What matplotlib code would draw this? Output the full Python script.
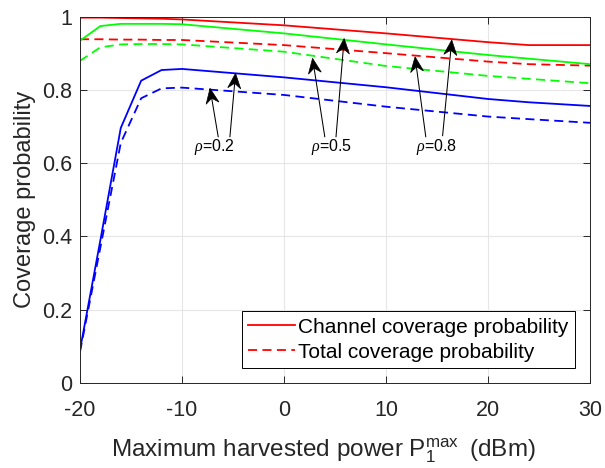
import matplotlib
matplotlib.use("Agg")
import matplotlib.pyplot as plt
import numpy as np
from matplotlib.patches import Polygon
from matplotlib.lines import Line2D

plt.rcParams['font.family'] = ['Liberation Sans', 'DejaVu Sans']
plt.rcParams['mathtext.fontset'] = 'custom'
plt.rcParams['mathtext.rm'] = 'Liberation Sans'
plt.rcParams['mathtext.it'] = 'Liberation Serif:italic'

x = [-20, -18, -16, -14, -12, -10, 0, 10, 20, 24, 30]
red_channel = [0.997, 0.997, 0.996, 0.995, 0.994, 0.992, 0.976, 0.954, 0.930, 0.922, 0.922]
red_total = [0.938, 0.938, 0.937, 0.937, 0.936, 0.936, 0.922, 0.900, 0.877, 0.870, 0.866]
green_channel = [0.934, 0.974, 0.980, 0.980, 0.980, 0.979, 0.954, 0.924, 0.895, 0.885, 0.870]
green_total = [0.879, 0.916, 0.924, 0.925, 0.925, 0.924, 0.904, 0.865, 0.838, 0.830, 0.818]
blue_channel = [0.09, 0.39, 0.696, 0.825, 0.854, 0.857, 0.834, 0.807, 0.775, 0.766, 0.756]
blue_total = [0.085, 0.37, 0.655, 0.777, 0.804, 0.806, 0.786, 0.754, 0.727, 0.720, 0.710]

xticks = [-20, -10, 0, 10, 20, 30]
xticklabels = ['-20', '-10', '0', '10', '20', '30']
yticks = [0, 0.2, 0.4, 0.6, 0.8, 1.0]
yticklabels = ['0', '0.2', '0.4', '0.6', '0.8', '1']

rho_labels = ['$\\rho$=0.2', '$\\rho$=0.5', '$\\rho$=0.8']
rho_text_pos = [(-6.8, 0.643), (4.7, 0.643), (15.0, 0.643)]
arrow_tails = [[(-6.45, 0.672), (-5.3, 0.672)],
               [(4.0, 0.672), (5.1, 0.672)],
               [(13.9, 0.672), (15.55, 0.675)]]
arrow_heads = [[(-7.25, 0.804), (-4.75, 0.845)],
               [(2.8, 0.886), (5.9, 0.940)],
               [(12.85, 0.890), (16.45, 0.936)]]

DPI = 100
fig = plt.figure(figsize=(6.05, 4.68), dpi=DPI)
ax = fig.add_axes([0.1322, 0.1816, 0.8430, 0.7831])

dash = (0, (5, 3))
lw = 1.3
ax.plot(x, red_channel, color=(1, 0, 0), lw=lw, label='Channel coverage probability')
ax.plot(x, red_total, color=(1, 0, 0), lw=lw, ls=dash, label='Total coverage probability')
ax.plot(x, green_channel, color=(0, 1, 0), lw=lw)
ax.plot(x, green_total, color=(0, 1, 0), lw=lw, ls=dash)
ax.plot(x, blue_channel, color=(0, 0, 1), lw=lw)
ax.plot(x, blue_total, color=(0, 0, 1), lw=lw, ls=dash)

ax.set_xlim(-20, 30)
ax.set_ylim(0, 1)

# MATLAB-like 'vback2' arrows drawn in pixel space
L, HW, NOTCH = 15.0, 6.5, 10.0
inv = ax.transData.inverted()
for lab, tp, tails, heads in zip(rho_labels, rho_text_pos, arrow_tails, arrow_heads):
    ax.text(tp[0], tp[1], lab, ha='center', va='center', fontsize=11.5, color='black')
    for t, h in zip(tails, heads):
        tpix = ax.transData.transform(t)
        hpix = ax.transData.transform(h)
        d = hpix - tpix
        u = d / np.hypot(*d)
        n = np.array([-u[1], u[0]])
        base = hpix - u * L
        notch = hpix - u * NOTCH
        pts_pix = [hpix, base + n * HW, notch, base - n * HW]
        pts = inv.transform(pts_pix)
        line_end = inv.transform([notch])[0]
        ax.add_line(Line2D([t[0], line_end[0]], [t[1], line_end[1]], color='black', lw=0.75, zorder=5))
        ax.add_patch(Polygon(pts, closed=True, facecolor='black', edgecolor='black', lw=0.5, zorder=5))

ax.set_xticks(xticks)
ax.set_xticklabels(xticklabels)
ax.set_yticks(yticks)
ax.set_yticklabels(yticklabels)
ax.grid(True, color=(0.9, 0.9, 0.9), lw=0.8)
ax.set_axisbelow(True)
ax.tick_params(direction='in', top=True, right=True, labelsize=15.5,
               colors=(0.15, 0.15, 0.15), length=5, width=0.7)
ax.tick_params(axis='x', pad=12)
ax.tick_params(axis='y', pad=5.5)
for s in ax.spines.values():
    s.set_color((0.15, 0.15, 0.15))
    s.set_linewidth(0.7)

ax.set_xlabel('Maximum harvested power P$_1^{\\rm max}\\;$ (dBm)', fontsize=17.5, color=(0.15, 0.15, 0.15))
ax.xaxis.set_label_coords(0.4775, -0.146)
ax.set_ylabel('Coverage probability', fontsize=17, color=(0.15, 0.15, 0.15))
ax.yaxis.set_label_coords(-0.087, 0.5)

leg = ax.legend(loc='lower right', bbox_to_anchor=(0.9706, 0.0409), fontsize=15, frameon=True,
                fancybox=False, edgecolor='black', framealpha=1, handlelength=2.25,
                handletextpad=0.15, borderpad=0.3, labelspacing=0.3, borderaxespad=0)
leg.get_frame().set_linewidth(0.7)

fig.savefig('out.png', dpi=DPI)
